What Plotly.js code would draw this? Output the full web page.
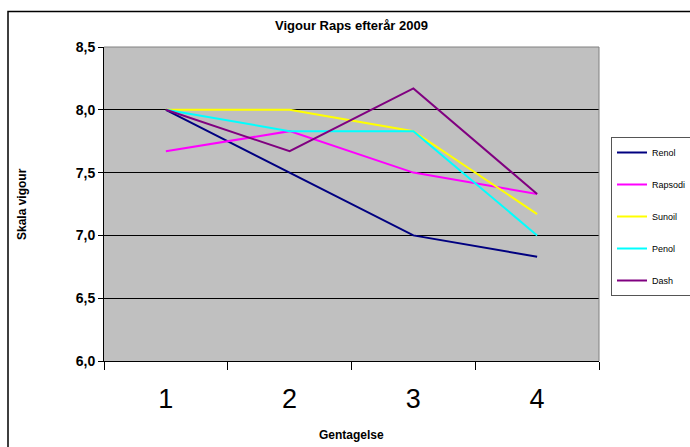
<!DOCTYPE html>
<html>
<head>
<meta charset="utf-8">
<script src="https://cdn.plot.ly/plotly-3.0.1.min.js"></script>
<style>html,body{margin:0;padding:0;background:#fff;}#chart{width:690px;height:447px;}</style>
</head>
<body>
<div id="chart"></div>
<script>
const categories = ["1", "2", "3", "4"];
const seriesNames = ["Renol", "Rapsodi", "Sunoil", "Penol", "Dash"];
const renol   = [8.0, 7.5, 7.0, 6.83];
const rapsodi = [7.67, 7.83, 7.5, 7.33];
const sunoil  = [8.0, 8.0, 7.83, 7.17];
const penol   = [8.0, 7.83, 7.83, 7.0];
const dash    = [8.0, 7.67, 8.17, 7.33];
const yTicks = [6.0, 6.5, 7.0, 7.5, 8.0, 8.5];

const seriesValues = [renol, rapsodi, sunoil, penol, dash];
const colors = ["#000080", "#FF00FF", "#FFFF00", "#00FFFF", "#800080"];

const traces = seriesNames.map((n, i) => ({
  type: "scatter", mode: "lines", name: n, x: categories, y: seriesValues[i],
  line: {color: colors[i], width: 2}, legendgroup: n
}));

const W = 690, H = 447;
const L = 104, R = 91, T = 47, B = 86;
const pw = W - L - R, ph = H - T - B;
const px = p => (p - L) / pw;
const py = p => (H - B - p) / ph;

const font = "Liberation Sans, Arial, sans-serif";
const layout = {
  width: W, height: H,
  margin: {l: L, r: R, t: T, b: B, autoexpand: false},
  paper_bgcolor: "#ffffff",
  plot_bgcolor: "#C0C0C0",
  separators: ", ",
  font: {family: font, color: "#000"},
  title: {text: "<b>Vigour Raps efterår 2009</b>", font: {size: 13, family: font, color: "#000"},
          x: 0.5, xref: "paper", y: 1 - 25 / H, yanchor: "middle"},
  xaxis: {type: "category", range: [-0.5, 3.5], tickson: "boundaries", ticks: "outside",
          ticklen: 8, tickcolor: "#000", tickwidth: 1, showgrid: false, zeroline: false,
          showline: true, linecolor: "#000", linewidth: 1, automargin: false,
          tickfont: {size: 27, family: font, color: "#000"}, ticklabelstandoff: 14},
  yaxis: {range: [6.0, 8.5], tickvals: yTicks, tickformat: ".1f", ticks: "outside", ticklen: 5,
          tickcolor: "#000", showgrid: true, gridcolor: "#000", gridwidth: 1, zeroline: false,
          showline: true, linecolor: "#000", linewidth: 1, automargin: false,
          tickfont: {size: 14, family: font, color: "#000", weight: "bold"}},
  showlegend: true,
  legend: {x: px(611), y: py(137), xanchor: "left", yanchor: "top",
           bgcolor: "#fff", bordercolor: "#555", borderwidth: 1,
           font: {size: 9, family: font, color: "#000"},
           traceorder: "grouped", tracegroupgap: 13, itemwidth: 30},
  shapes: [
    {type: "line", xref: "paper", yref: "paper", x0: 0, x1: 1, y0: 1, y1: 1, line: {color: "#808080", width: 1}, layer: "above"},
    {type: "line", xref: "paper", yref: "paper", x0: 1, x1: 1, y0: 0, y1: 1, line: {color: "#808080", width: 1}, layer: "above"},
    {type: "rect", xref: "paper", yref: "paper", x0: px(8), x1: px(693), y0: py(450), y1: py(11.5), line: {color: "#000", width: 1.5}, layer: "above"}
  ],
  annotations: [
    {text: "<b>Gentagelse</b>", xref: "paper", yref: "paper", x: 0.5, y: 0, yshift: -(435 - (H - B)), yanchor: "middle", showarrow: false, font: {size: 12, family: font, color: "#000"}},
    {text: "<b>Skala vigour</b>", xref: "paper", yref: "paper", x: 0, xshift: 22 - L, y: 0.5, textangle: -90, xanchor: "center", yanchor: "middle", showarrow: false, font: {size: 12, family: font, color: "#000"}}
  ]
};

Plotly.newPlot("chart", traces, layout, {displayModeBar: false, staticPlot: true});
</script>
</body>
</html>
